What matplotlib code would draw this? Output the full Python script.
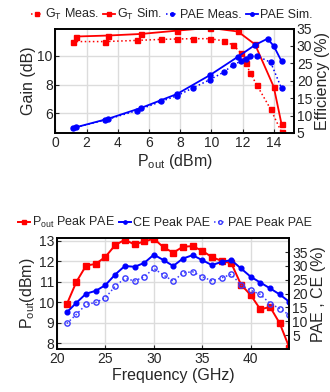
import matplotlib
matplotlib.use("Agg")
import matplotlib.pyplot as plt

plt.rcParams['font.family'] = ['Liberation Sans', 'DejaVu Sans']
plt.rcParams['mathtext.fontset'] = 'custom'
plt.rcParams['mathtext.rm'] = 'Liberation Sans'
plt.rcParams['mathtext.it'] = 'Liberation Sans'
plt.rcParams['text.color'] = '#262626'
plt.rcParams['axes.labelcolor'] = '#262626'
plt.rcParams['xtick.color'] = '#262626'
plt.rcParams['ytick.color'] = '#262626'

# --- top panel: gain / PAE vs output power ---
pout_meas = [1.1, 3.2, 5.2, 6.8, 7.8, 8.8, 9.9, 10.8, 11.4, 11.9, 12.2, 12.5, 12.9, 13.8, 14.5]
gt_meas = [11.0, 11.0, 11.08, 11.15, 11.18, 11.2, 11.2, 11.05, 10.75, 10.2, 9.5, 8.8, 8.0, 6.3, 4.7]
pae_meas = [6.4, 8.7, 11.4, 14.1, 15.7, 17.9, 20.3, 22.5, 24.6, 25.6, 26.4, 27.0, 27.2, 25.3, 17.8]

pout_sim_gt = [1.3, 3.4, 5.5, 7.8, 9.9, 11.7, 12.8, 14.0, 14.5]
gt_sim = [11.35, 11.42, 11.53, 11.76, 11.95, 11.7, 10.8, 7.85, 5.25]
pout_sim_pae = [1.3, 3.4, 5.5, 7.8, 9.9, 11.7, 12.8, 13.6, 14.0, 14.5]
pae_sim = [6.6, 9.1, 12.2, 16.2, 21.6, 26.9, 30.3, 32.1, 30.0, 25.6]

# --- bottom panel: peak PAE vs frequency ---
freq = list(range(21, 45))
pout_pk = [9.9, 11.0, 11.79, 11.87, 12.22, 12.79, 13.05, 12.82, 12.97, 13.1, 12.68, 12.42,
           12.71, 12.74, 12.51, 12.2, 12.02, 11.9, 10.86, 10.35, 9.65, 9.77, 8.97, 7.77]
ce_pk = [13.2, 16.7, 20.0, 21.0, 23.1, 26.9, 30.0, 29.7, 31.1, 34.1, 32.1, 30.0,
         32.7, 33.9, 32.1, 30.3, 31.5, 32.1, 29.1, 26.1, 24.0, 21.9, 19.7, 17.0]
pae_pk = [9.2, 12.5, 16.1, 16.8, 18.5, 22.7, 25.5, 24.6, 26.1, 29.1, 26.7, 24.5,
          27.5, 27.9, 26.1, 24.6, 25.7, 27.0, 23.1, 21.2, 19.7, 16.4, 14.6, 12.2]

RED = '#ff0000'
BLUE = '#0000ff'
GRID = '#dcdcdc'

fig = plt.figure(figsize=(3.3, 3.92), dpi=100)


def style(ax):
    ax.tick_params(direction='in', length=3, width=0.8, labelsize=10, pad=2)
    for s in ax.spines.values():
        s.set_linewidth(1.2)


# top
ax1 = fig.add_axes([0.168, 0.661, 0.723, 0.266])
ax1b = ax1.twinx()
ax1.plot(pout_meas, gt_meas, ':', color=RED, marker='s', ms=3.6, lw=1.1, label=r'$\mathregular{G_T}$ Meas.')
ax1.plot(pout_sim_gt, gt_sim, '-', color=RED, marker='s', ms=3.6, lw=1.3, label=r'$\mathregular{G_T}$ Sim.')
l3, = ax1b.plot(pout_meas, pae_meas, ':', color=BLUE, marker='o', ms=3.6, lw=1.1, label='PAE Meas.')
l4, = ax1b.plot(pout_sim_pae, pae_sim, '-', color=BLUE, marker='o', ms=3.6, lw=1.3, label='PAE Sim.')
ax1.set_xlim(0, 15.3)
ax1.set_ylim(4.65, 11.9)
ax1b.set_ylim(5, 35)
ax1.set_xticks(range(0, 15, 2))
ax1.set_yticks([6, 8, 10])
ax1b.set_yticks(range(5, 36, 5))
ax1.grid(True, color=GRID, lw=1.0)
ax1.set_axisbelow(True)
style(ax1)
style(ax1b)
ax1.set_xlabel(r'$\mathregular{P_{out}}$ (dBm)', fontsize=11.5, labelpad=2)
ax1.set_ylabel('Gain (dB)', fontsize=11.5, labelpad=1)
ax1b.set_ylabel('Efficiency (%)', fontsize=11.5, labelpad=2)
h1, lab1 = ax1.get_legend_handles_labels()
fig.legend(h1 + [l3, l4], lab1 + ['PAE Meas.', 'PAE Sim.'], loc='center', bbox_to_anchor=(0.52, 0.962),
           ncol=4, frameon=False, fontsize=9, handlelength=1.0, handletextpad=0.15,
           columnspacing=0.3, markerscale=0.7)

# bottom
ax2 = fig.add_axes([0.173, 0.110, 0.704, 0.282])
ax2b = ax2.twinx()
ax2.plot(freq, pout_pk, '-', color=RED, marker='s', ms=3.8, lw=1.4, label=r'$\mathregular{P_{out}}$ Peak PAE')
m2, = ax2b.plot(freq, ce_pk, '-', color=BLUE, marker='o', ms=3.4, lw=1.4, label='CE Peak PAE')
m3, = ax2b.plot(freq, pae_pk, ':', color='#3a3aff', marker='o', ms=3.8, mfc='none', mew=1.0, lw=1.1,
                label='PAE Peak PAE')
ax2.set_xlim(20, 44)
ax2.set_ylim(7.72, 13.12)
ax2b.set_ylim(0, 40)
ax2.set_xticks([20, 25, 30, 35, 40])
ax2.set_yticks(range(8, 14))
ax2b.set_yticks(range(5, 36, 5))
ax2.grid(True, color=GRID, lw=1.0)
ax2.set_axisbelow(True)
style(ax2)
style(ax2b)
ax2.set_xlabel('Frequency (GHz)', fontsize=11.5, labelpad=2)
ax2.set_ylabel(r'$\mathregular{P_{out}}$(dBm)', fontsize=11.5, labelpad=1)
ax2b.set_ylabel('PAE , CE (%)', fontsize=11.5, labelpad=2)
h2, lab2 = ax2.get_legend_handles_labels()
fig.legend(h2 + [m2, m3], lab2 + ['CE Peak PAE', 'PAE Peak PAE'], loc='center', bbox_to_anchor=(0.5, 0.432),
           ncol=3, frameon=False, fontsize=9, handlelength=1.0, handletextpad=0.15,
           columnspacing=0.3, markerscale=0.7)

fig.savefig('out.png', dpi=100)
